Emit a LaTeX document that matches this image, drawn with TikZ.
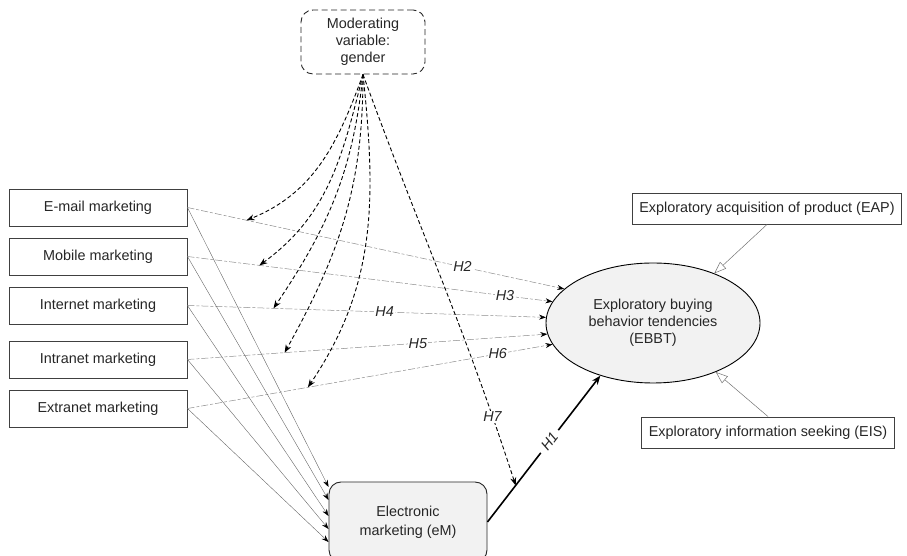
\documentclass[tikz,border=0pt]{standalone}
\usepackage{fontspec}
\setmainfont{Liberation Sans}
\usetikzlibrary{arrows.meta,shapes.geometric}

\begin{document}
\begin{tikzpicture}[x=1pt,y=1pt,
        font=\fontsize{14.4}{17}\selectfont, text=black!85,
        chan/.style={draw=black!75, line width=0.9pt, minimum width=178pt, minimum height=37pt, inner sep=0pt},
        dim/.style={draw=black!75, line width=0.9pt, minimum height=31pt, inner xsep=7pt},
        hyp/.style={draw=black!45, line width=0.5pt, dash pattern=on 7pt off 2pt on 3pt off 2pt, -{Stealth[length=7pt,width=5pt,black]}},
        modl/.style={draw=black, line width=0.9pt, dash pattern=on 4pt off 2.5pt, -{Stealth[length=8pt,width=6pt]}},
        feed/.style={draw=black!60, line width=0.4pt, -{Stealth[length=7pt,width=5pt,black]}},
        hlab/.style={font=\fontsize{14.4}{17}\selectfont\itshape, fill=white, inner sep=1pt}]
        \useasboundingbox (0,0) rectangle (907,556);

        % moderator
        \node[draw=black!85, dash pattern=on 6pt off 3.5pt, rounded corners=12pt, line width=0.9pt, minimum width=124pt, minimum height=64pt, align=center] (mod) at (363,514) {Moderating\\variable:\\gender};

        % channels
        \foreach \name/\txt/\y in {mail/E-mail marketing/348.5, mob/Mobile marketing/299.5, inet/Internet marketing/250.5, intra/Intranet marketing/196.5, extra/Extranet marketing/147.5}
        \node[chan] (\name) at (98,\y) {\txt};

        % outcome and its dimensions
        \node[ellipse, draw=black, line width=0.9pt, fill=black!5, minimum width=214pt, minimum height=120pt, inner sep=0pt, align=center] (ebbt) at (653,233) {Exploratory buying\\behavior tendencies\\(EBBT)};
        \node[dim] (eap) at (767,347.5) {Exploratory acquisition of product (EAP)};
        \node[dim] (eis) at (768,123.5) {Exploratory information seeking (EIS)};

        \node[draw=black!85, rounded corners=12pt, fill=black!5, line width=0.9pt, minimum width=158pt, minimum height=80pt, align=center] (em) at (408,34) {Electronic\\[2pt]marketing (eM)};

        % H2 - H6
        \draw[hyp] (mail.east) -- node[hlab, pos=0.73] {H2} coordinate[pos=0.157] (m2) (ebbt.159);
        \draw[hyp] (mob.east) -- node[hlab, pos=0.87] {H3} coordinate[pos=0.197] (m3) (ebbt.168);
        \draw[hyp] (inet.east) -- node[hlab, pos=0.55] {H4} coordinate[pos=0.24] (m4) (ebbt.177);
        \draw[hyp] (intra.east) -- node[hlab, pos=0.64] {H5} coordinate[pos=0.27] (m5) (ebbt.186);
        \draw[hyp] (extra.east) -- node[hlab, pos=0.85] {H6} coordinate[pos=0.33] (m6) (ebbt.192);

        % channels to eM
        \foreach \src/\dy in {mail/35, mob/22, inet/6, intra/-7, extra/-20}
        \draw[feed] (\src.east) -- ([yshift=\dy pt]em.west);

        % H1
        \draw[line width=1.6pt, -{Stealth[length=9pt,width=7pt]}] (em.east) -- node[hlab, sloped, pos=0.55, inner xsep=5pt] {H1} coordinate[pos=0.25] (m1) (ebbt.225);

        % moderating effects
        \draw[modl] (mod.south) to[out=-110,in=22] (m2);
        \draw[modl] (mod.south) to[out=-104,in=36] (m3);
        \draw[modl] (mod.south) to[out=-96,in=56] (m4);
        \draw[modl] (mod.south) to[out=-90,in=61] (m5);
        \draw[modl] (mod.south) to[out=-84,in=56] (m6);
        \draw[modl] (mod.south) to[out=-70,in=108] node[hlab, pos=0.85] {H7} (m1);

        % dimensions
        \draw[draw=black!55, line width=0.5pt, -{Triangle[open,length=12pt,width=9pt]}] (eap.south) -- (ebbt.39);
        \draw[draw=black!55, line width=0.5pt, -{Triangle[open,length=12pt,width=9pt]}] (eis.north) -- (ebbt.322);
\end{tikzpicture}
\end{document}
